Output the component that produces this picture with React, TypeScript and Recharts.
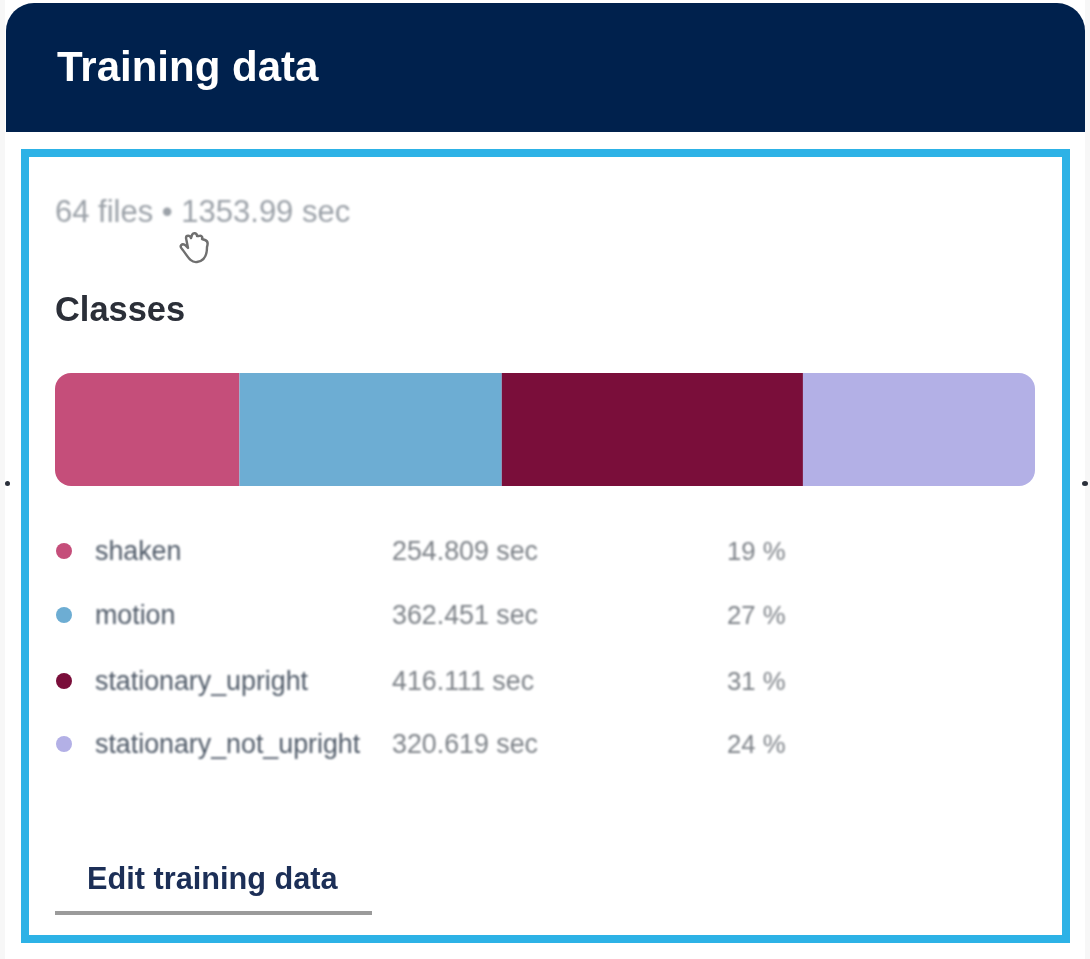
import { BarChart, Bar, XAxis, YAxis } from "recharts";

const CLASSES = ["shaken", "motion", "stationary_upright", "stationary_not_upright"];
const SECONDS = [254.809, 362.451, 416.111, 320.619];
const SECONDS_LABELS = ["254.809 sec", "362.451 sec", "416.111 sec", "320.619 sec"];
const PERCENTS = ["19 %", "27 %", "31 %", "24 %"];
const COLORS = ["#c54e7a", "#6dadd3", "#7a0e3a", "#b3b0e6"];
const ROW_TOPS = [551, 615, 681, 744];
const TOTAL = 1353.99;

const FONT = '"Liberation Sans", Arial, sans-serif';

const barRow = [Object.fromEntries([["name", "classes"], ...CLASSES.map((c, i) => [c, SECONDS[i]])])];

const PAGE: React.CSSProperties = {
  position: "absolute", left: 0, top: 0, width: 1090, height: 959, background: "#fff",
  fontFamily: FONT, overflow: "hidden",
};
const ROW_TEXT: React.CSSProperties = {
  position: "absolute", fontSize: 26.8, lineHeight: "30px", whiteSpace: "nowrap",
  transform: "translateY(-50%)", filter: "blur(0.8px)",
};

function at(left: number, top: number, extra: React.CSSProperties): React.CSSProperties {
  return { ...ROW_TEXT, left, top, ...extra };
}

export default function App() {
  return (
    <div style={PAGE}>
      {/* page edge and the two stray dots */}
      <div style={{ position: "absolute", left: 0, top: 0, width: 5, height: 959, background: "#f7f7f7" }} />
      <div style={{ position: "absolute", left: 1085, top: 0, width: 5, height: 959, background: "#f7f7f7" }} />
      <div style={{ position: "absolute", left: 5, top: 481, width: 5, height: 5, borderRadius: "50%", background: "#2a2f3a" }} />
      <div style={{ position: "absolute", left: 1082, top: 481, width: 6, height: 5, borderRadius: "50%", background: "#2a2f3a" }} />

      {/* header */}
      <div style={{
        position: "absolute", left: 6, top: 3, width: 1079, height: 129, background: "#00214d",
        borderRadius: "28px 28px 0 0",
      }} />
      <div style={{
        position: "absolute", left: 57, top: 44, fontSize: 42, lineHeight: "46px", fontWeight: 700,
        color: "#fff", whiteSpace: "nowrap", filter: "blur(0.7px)",
      }}>Training data</div>

      {/* highlight frame */}
      <div style={{
        position: "absolute", left: 21, top: 149, width: 1049, height: 794, boxSizing: "border-box",
        border: "8px solid #2db2e6",
      }} />

      <div style={{ ...at(55, 212, {}), fontSize: 31, color: "#9ba1a8" }}>64 files • 1353.99 sec</div>

      {/* cursor */}
      <svg style={{ position: "absolute", left: 176, top: 229, filter: "blur(0.6px)" }} width="36" height="38" viewBox="0 0 36 38">
        <path
          d="M6 20 C3 17 6 14 9 16 L12 19 L10 9 C10 6 14 6 15 9 L16 6 C17 3 21 4 21 7 L23 7 C25 6 27 8 26 10 L29 11 C32 12 32 15 31 18 C31 25 29 32 21 33 C14 34 11 26 6 20 Z"
          fill="#fff" stroke="#6f6f6f" strokeWidth="2.4" strokeLinejoin="round"
        />
      </svg>

      <div style={{
        position: "absolute", left: 55, top: 291, fontSize: 34.4, lineHeight: "36px", fontWeight: 700,
        color: "#2b2f38", filter: "blur(0.7px)",
      }}>Classes</div>

      {/* stacked share bar */}
      <div style={{ position: "absolute", left: 55, top: 373 }}>
        <BarChart
          width={980} height={113} data={barRow} layout="vertical"
          margin={{ top: 0, right: 0, bottom: 0, left: 0 }} barCategoryGap={0}
        >
          <XAxis type="number" domain={[0, TOTAL]} hide />
          <YAxis type="category" dataKey="name" hide />
          {CLASSES.map((c, i) => (
            <Bar
              key={c} dataKey={c} stackId="a" fill={COLORS[i]} isAnimationActive={false}
              radius={i === 0 ? [16, 0, 0, 16] : i === CLASSES.length - 1 ? [0, 16, 16, 0] : 0}
            />
          ))}
        </BarChart>
      </div>

      {/* class list */}
      {CLASSES.map((c, i) => (
        <div key={c}>
          <div style={{
            position: "absolute", left: 56, top: ROW_TOPS[i] - 8, width: 16, height: 16,
            borderRadius: "50%", background: COLORS[i],
          }} />
          <div style={at(95, ROW_TOPS[i], { color: "#4f5a68" })}>{c}</div>
          <div style={at(392, ROW_TOPS[i], { color: "#7d8288" })}>{SECONDS_LABELS[i]}</div>
          <div style={at(727, ROW_TOPS[i], { color: "#7d8288", fontSize: 25.7 })}>{PERCENTS[i]}</div>
        </div>
      ))}

      {/* edit link */}
      <div style={{
        position: "absolute", left: 87, top: 862, fontSize: 30.7, lineHeight: "34px", fontWeight: 700,
        color: "#1c2f57", whiteSpace: "nowrap", filter: "blur(0.7px)",
      }}>Edit training data</div>
      <div style={{ position: "absolute", left: 55, top: 911, width: 317, height: 4, background: "#9b9b9b" }} />
    </div>
  );
}
